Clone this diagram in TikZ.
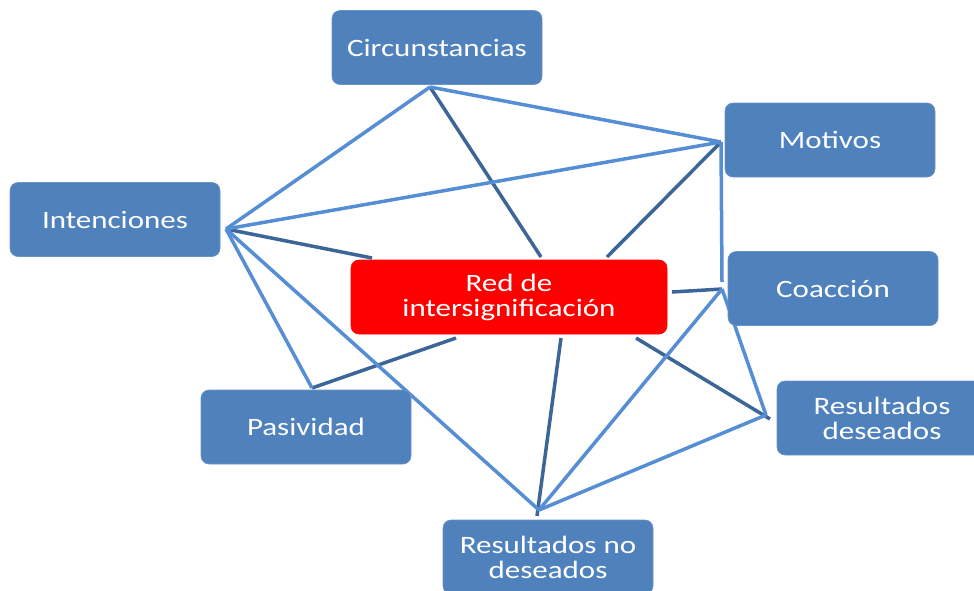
\documentclass[tikz,border=0pt]{standalone}
\usepackage{fontspec}
\setmainfont{Carlito}[FakeStretch=1.24]
\usetikzlibrary{calc}
\definecolor{boxblue}{HTML}{4F81BD}
\definecolor{lineblue}{HTML}{558ED5}
\definecolor{darkline}{HTML}{3C6698}
\definecolor{redbox}{HTML}{FF0000}
\tikzset{
  box/.style={rectangle, rounded corners=8pt, fill=boxblue, draw=boxblue!85!white, line width=0.6pt,
    minimum width=210pt, minimum height=74pt, inner sep=0pt, align=center, text=white,
    font=\fontsize{25}{25}\selectfont},
  redb/.style={box, fill=redbox, draw=redbox, minimum width=316pt},
  lite/.style={draw=lineblue, line width=3.5pt},
  dark/.style={draw=darkline, line width=3.5pt},
}
\begin{document}
\begin{tikzpicture}[x=1pt,y=-1pt]
\useasboundingbox (0,0) rectangle (974,590);
% connectors first (below boxes)
\coordinate (pC) at (430,87);
\coordinate (pM) at (721,142);
\coordinate (pI) at (226,229);
\coordinate (pCo) at (722,289);
\coordinate (pCv) at (722,282);
\coordinate (pP) at (312,388);
\coordinate (pRD) at (766,415);
\coordinate (pRN) at (539,510);
% red-side ends
\coordinate (rC) at (541,257);
\coordinate (rM) at (607,257);
\coordinate (rI) at (372,258);
\coordinate (rCo) at (672,292);
\coordinate (rP) at (456,338);
\coordinate (rRN) at (561,338);
\coordinate (rRD) at (636,338);
\coordinate (eRN) at (537,516);
\coordinate (eRD) at (770,419);

% dark connectors
\draw[dark] (pC) -- (rC);
\draw[dark] (pM) -- (rM);
\draw[dark] (pI) -- (rI);
\draw[dark] (rCo) -- (pCo);
\draw[dark] (rP) -- (pP);
\draw[dark] (rRN) -- (eRN);
\draw[dark] (rRD) -- (eRD);
% light connectors
\draw[lite] (pC) -- (pI);
\draw[lite] (pC) -- (pM);
\draw[lite] (pI) -- (pM);
\draw[lite] (pI) -- (pP);
\draw[lite] (pI) -- (pRN);
\draw[lite] (pM) -- (pCv);
\draw[lite] (pCo) -- (pRN);
\draw[lite] (pCo) -- (pRD);
\draw[lite] (pRD) -- (pRN);

% boxes
\node[box] (Circ) at (437,47.5) {Circunstancias};
\node[box] (Mot) at (830,140) {Motivos};
\node[box] (Int) at (115,219.5) {Intenciones};
\node[redb] (Red) at (509,297) {Red de\\intersignificación};
\node[box] (Coa) at (833,288.5) {Coacción};
\node[box] (Pas) at (306,427) {Pasividad};
\node[box] (RD) at (882,418) {Resultados\\deseados};
\node[box] (RN) at (548,557) {Resultados no\\deseados};
\end{tikzpicture}
\end{document}
